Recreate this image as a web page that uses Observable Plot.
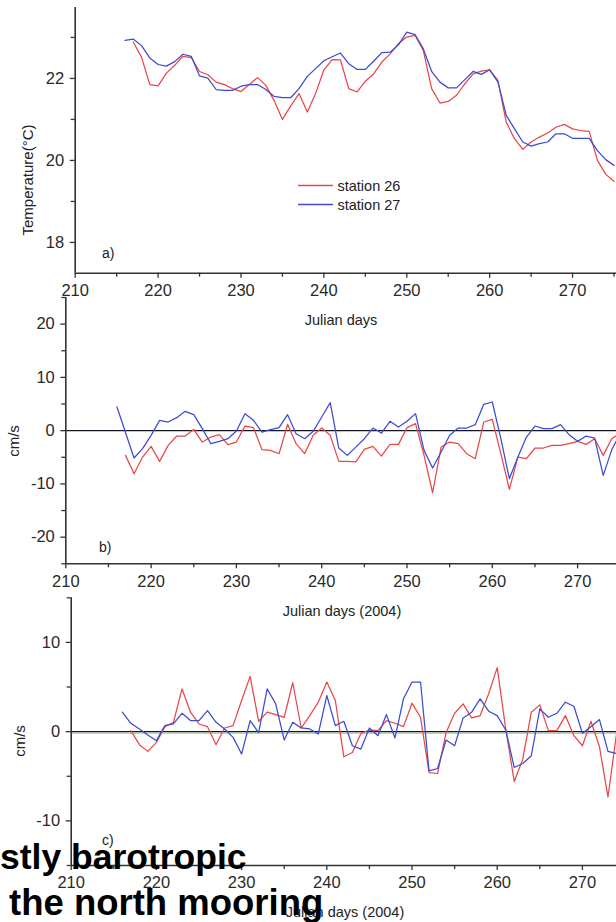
<!DOCTYPE html>
<html>
<head>
<meta charset="utf-8">
<script src="https://cdn.jsdelivr.net/npm/d3@7"></script>
<script src="https://cdn.jsdelivr.net/npm/@observablehq/plot@0.6"></script>
<style>
  html, body { margin: 0; padding: 0; background: #fff; }
  #wrap { position: relative; width: 616px; height: 922px; overflow: hidden; font-family: "Liberation Sans", Arial, sans-serif; }
  #wrap svg.plotpanel { position: absolute; left: 0; }
  #overlay { position: absolute; left: 0; top: 0; pointer-events: none; }
</style>
</head>
<body>
<div id="wrap"></div>
<script>
// ---------------- DATA ----------------
const seriesNames = ["station 26", "station 27"];
const seriesColors = ["#e8474a", "#3c4bd2"];

// a) Temperature (°C)
const tempDays26 = [217,218,219,220,221,222,223,224,225,226,227,228,229,230,231,232,233,234,235,236,237,238,239,240,241,242,243,244,245,246,247,248,249,250,251,252,253,254,255,256,257,258,259,260,261,262,263,264,265,266,267,268,269,270,271,272,273,274,275];
const temp26 = [22.89,22.52,21.85,21.82,22.13,22.32,22.54,22.51,22.17,22.09,21.91,21.85,21.75,21.68,21.85,22.02,21.83,21.46,21.00,21.33,21.63,21.18,21.63,22.21,22.46,22.45,21.75,21.67,21.93,22.11,22.40,22.60,22.85,23.01,23.05,22.68,21.75,21.40,21.44,21.59,21.87,22.11,22.18,22.21,21.95,20.93,20.53,20.27,20.45,20.57,20.67,20.81,20.88,20.77,20.73,20.71,20.00,19.66,19.49];
const tempDays27 = [216,217,218,219,220,221,222,223,224,225,226,227,228,229,230,231,232,233,234,235,236,237,238,239,240,241,242,243,244,245,246,247,248,249,250,251,252,253,254,255,256,257,258,259,260,261,262,263,264,265,266,267,268,269,270,271,272,273,274,275];
const temp27 = [22.93,22.96,22.80,22.50,22.34,22.30,22.41,22.59,22.54,22.06,22.01,21.73,21.71,21.71,21.81,21.85,21.85,21.73,21.56,21.53,21.53,21.75,22.05,22.24,22.43,22.53,22.62,22.36,22.22,22.22,22.42,22.63,22.64,22.82,23.13,23.07,22.72,22.17,21.91,21.77,21.77,21.97,22.17,22.10,22.21,21.91,21.10,20.77,20.45,20.35,20.41,20.45,20.65,20.65,20.54,20.54,20.54,20.24,20.02,19.88];

// b) velocity (cm/s)
const velDays26 = tempDays26;
const velB26 = [-4.64,-8.09,-4.96,-2.95,-5.77,-2.76,-1.01,-1.01,0.24,-2.14,-1.20,-0.76,-2.64,-2.14,0.87,0.56,-3.58,-3.70,-4.33,1.18,-2.45,-4.33,-0.88,0.49,-0.88,-5.77,-5.77,-5.85,-3.51,-2.95,-4.77,-2.58,-2.58,0.56,1.31,-4.64,-11.66,-3.08,-2.14,-2.45,-4.33,-5.27,1.62,2.12,-4.33,-11.03,-4.96,-5.27,-3.26,-3.26,-2.76,-2.76,-2.45,-2.01,-2.58,-1.51,-4.64,-1.51,-0.5];
const velDays27 = tempDays27;
const velB27 = [4.44,-0.35,-5.14,-3.38,-0.88,1.94,1.62,2.44,3.63,3.0,0.37,-2.45,-2.01,-1.51,-0.07,3.19,1.94,-0.26,0.18,0.56,3.0,-0.57,-1.51,-0.13,2.56,5.26,-3.26,-4.64,-3.1,-1.51,0.49,-0.45,1.75,0.68,1.75,3.19,-3.70,-7.02,-4.02,-0.88,0.49,0.49,1.12,4.94,5.38,-1.51,-9.03,-4.96,-1.20,0.87,0.37,0.37,1.12,-0.76,-2.01,-1.01,-1.39,-8.40,-3.6,-0.5];

// c) velocity (cm/s)
const velCDays26 = [217,218,219,220,221,222,223,224,225,226,227,228,229,230,231,232,233,234,235,236,237,238,239,240,241,242,243,244,245,246,247,248,249,250,251,252,253,254,255,256,257,258,259,260,261,262,263,264,265,266,267,268,269,270,271,272,273,274];
const velC26 = [0.11,-1.46,-2.21,-1.20,0.56,1.05,4.80,2.18,0.86,0.56,-1.46,0.41,0.68,3.49,6.19,1.16,2.18,1.91,1.61,5.48,0.41,1.80,3.30,5.56,3.49,-2.82,-2.33,-0.2,0.19,0.11,1.24,0.94,0.56,3.19,1.61,-4.58,-4.69,-0.11,2.06,3.12,1.54,1.80,4.24,7.17,0.30,-5.59,-3.08,2.18,3.0,0.11,0.11,1.80,-0.45,-1.58,1.16,-1.69,-7.32,-0.26];
const velCDays27 = [216,217,218,219,220,221,222,223,224,225,226,227,228,229,230,231,232,233,234,235,236,237,238,239,240,241,242,243,244,245,246,247,248,249,250,251,252,253,254,255,256,257,258,259,260,261,262,263,264,265,266,267,268,269,270,271,272,273,274];
const velC27 = [2.18,0.94,0.30,-0.38,-1.01,0.68,0.86,2.06,1.24,1.24,2.36,1.05,0.30,-0.64,-2.51,1.24,-0.11,4.80,3.12,-0.94,1.05,0.41,0.30,-0.26,4.05,0.68,1.16,-1.58,-1.95,0.41,-0.45,1.91,-0.71,3.68,5.56,5.56,-4.39,-4.13,-0.94,-1.58,1.54,2.18,3.68,2.29,1.80,0.19,-4.02,-3.57,-2.70,2.55,1.61,2.06,3.30,2.85,-0.19,0.56,1.35,-2.21,-2.44];

// ticks
const xMajor = [210,220,230,240,250,260,270];
const xMinor = [215,225,235,245,255,265,275];
const yMajorA = [18,20,22], yMinorA = [19,21,23];
const yMajorB = [-20,-10,0,10,20], yMinorB = [-25,-15,-5,5,15,25];
const yMajorC = [-10,0,10], yMinorC = [-15,-5,5,15];

// texts
const panelLetters = ["a)", "b)", "c)"];
const yLabels = ["Temperature(°C)", "cm/s", "cm/s"];
const xLabels = ["Julian days", "Julian days (2004)", "Julian days (2004)"];
const captionLines = ["stly barotropic", "the north mooring"];

// ---------------- BUILD ----------------
const toRows = (days, vals) => days.map((d, i) => ({day: d, v: vals[i]}));
const FONT = "Liberation Sans, Arial, sans-serif";
const AX = "#333";

function panel({top, height, marginLeft, marginTop, marginBottom, xDomain, yDomain, yMajor, yMinor, s26, s27, zero, green}) {
  const marks = [];
  if (zero) {
    if (green) marks.push(Plot.ruleY([0], {stroke: "#8fd18f", strokeWidth: 1.2, dy: 1.6}));
    marks.push(Plot.ruleY([0], {stroke: "#141420", strokeWidth: 1.4}));
  }
  marks.push(
    Plot.lineY(s26, {x: "day", y: "v", stroke: seriesColors[0], strokeWidth: 1.25, clip: true}),
    Plot.lineY(s27, {x: "day", y: "v", stroke: seriesColors[1], strokeWidth: 1.25, clip: true}),
    Plot.ruleX([xDomain[0]], {stroke: AX, strokeWidth: 1.6}),
    Plot.ruleY([yDomain[0]], {stroke: AX, strokeWidth: 1.6}),
    Plot.axisX({anchor: "bottom", ticks: xMajor, tickSize: 5, tickPadding: 6, tickFormat: d => String(d), fontSize: 16.5, fontFamily: FONT, color: "#2a2a2a", stroke: AX, strokeWidth: 1.3, label: null}),
    Plot.axisX({anchor: "bottom", ticks: xMinor, tickSize: 4, tickFormat: () => "", stroke: AX, strokeWidth: 1.3, label: null}),
    Plot.axisY({anchor: "left", ticks: yMajor, tickSize: 5, tickPadding: 6, tickFormat: d => String(d).replace("\u2212", "-"), fontSize: 16.5, fontFamily: FONT, color: "#2a2a2a", stroke: AX, strokeWidth: 1.3, label: null}),
    Plot.axisY({anchor: "left", ticks: yMinor, tickSize: 4, tickFormat: () => "", stroke: AX, strokeWidth: 1.3, label: null})
  );
  const svg = Plot.plot({
    width: 616, height, marginLeft, marginRight: 0, marginTop, marginBottom,
    style: {background: "transparent", overflow: "visible", fontFamily: FONT},
    x: {domain: xDomain, label: null},
    y: {domain: yDomain, label: null},
    marks
  });
  svg.classList.add("plotpanel");
  svg.style.position = "absolute";
  svg.style.top = top + "px";
  svg.style.left = "0px";
  return svg;
}

const wrap = document.getElementById("wrap");

wrap.appendChild(panel({
  top: 0, height: 300, marginLeft: 74.7, marginTop: 7, marginBottom: 27.3,
  xDomain: [210, 275.3], yDomain: [17.25, 23.73], yMajor: yMajorA, yMinor: yMinorA,
  s26: toRows(tempDays26, temp26), s27: toRows(tempDays27, temp27), zero: false
}));
wrap.appendChild(panel({
  top: 280, height: 310, marginLeft: 65.3, marginTop: 17, marginBottom: 26.7,
  xDomain: [210, 274.56], yDomain: [-25, 25], yMajor: yMajorB, yMinor: yMinorB,
  s26: toRows(velDays26, velB26), s27: toRows(velDays27, velB27), zero: true
}));
wrap.appendChild(panel({
  top: 580, height: 310, marginLeft: 70.7, marginTop: 17.3, marginBottom: 25,
  xDomain: [210, 274.0], yDomain: [-15, 15], yMajor: yMajorC, yMinor: yMinorC,
  s26: toRows(velCDays26, velC26), s27: toRows(velCDays27, velC27), zero: true, green: true
}));

// overlay: labels, legend, caption
const ov = d3.select(wrap).append("svg").attr("id", "overlay").attr("width", 616).attr("height", 922)
  .style("font-family", FONT);

const txt = (s, x, y, size, opts = {}) => ov.append("text")
  .attr("x", x).attr("y", y).attr("font-size", size)
  .attr("fill", opts.fill || "#222")
  .attr("font-weight", opts.weight || "normal")
  .attr("text-anchor", opts.anchor || "start")
  .attr("dominant-baseline", opts.baseline || "central")
  .attr("transform", opts.rotate ? `rotate(-90 ${x} ${y})` : null)
  .text(s);

// y labels
txt(yLabels[0], 27, 180, 15, {anchor: "middle", rotate: true});
txt(yLabels[1], 13, 441, 15, {anchor: "middle", rotate: true});
txt(yLabels[2], 19, 741, 15, {anchor: "middle", rotate: true});
// x labels
txt(xLabels[0], 341, 320, 14.5, {anchor: "middle"});
txt(xLabels[1], 342, 610.5, 14.5, {anchor: "middle"});
txt(xLabels[2], 345, 911.5, 14.5, {anchor: "middle"});
// panel letters
txt(panelLetters[0], 102, 252.5, 14);
txt(panelLetters[1], 99, 547, 14);
txt(panelLetters[2], 102, 840, 14);
// legend
const legendY = [185.5, 204.5];
seriesNames.forEach((name, i) => {
  ov.append("line").attr("x1", 298).attr("x2", 333).attr("y1", legendY[i]).attr("y2", legendY[i])
    .attr("stroke", seriesColors[i]).attr("stroke-width", 1.3);
  txt(name, 337.5, legendY[i] + 0.5, 14.5);
});
// caption
txt(captionLines[0], 0, 869, 35.5, {weight: "bold", fill: "#000", baseline: "alphabetic"});
txt(captionLines[1], 9, 915, 36.5, {weight: "bold", fill: "#000", baseline: "alphabetic"});
</script>
</body>
</html>
